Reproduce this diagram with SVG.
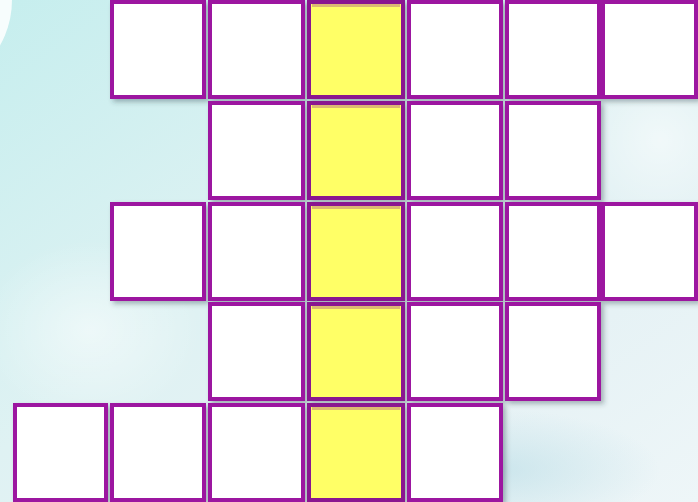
<svg xmlns="http://www.w3.org/2000/svg" width="698" height="502" viewBox="0 0 698 502">
  <defs>
    <linearGradient id="bg" x1="0" y1="0" x2="1" y2="1">
      <stop offset="0" stop-color="#c6eeee"/>
      <stop offset="0.45" stop-color="#dff2f3"/>
      <stop offset="0.75" stop-color="#e6f2f5"/>
      <stop offset="1" stop-color="#eef6f8"/>
    </linearGradient>
    <radialGradient id="blob1" cx="0.5" cy="0.5" r="0.5">
      <stop offset="0" stop-color="#ffffff" stop-opacity="0.5"/>
      <stop offset="1" stop-color="#ffffff" stop-opacity="0"/>
    </radialGradient>
    <radialGradient id="blob2" cx="0.5" cy="0.5" r="0.5">
      <stop offset="0" stop-color="#b9dde6" stop-opacity="0.6"/>
      <stop offset="1" stop-color="#b9dde6" stop-opacity="0"/>
    </radialGradient>
    <filter id="sh" x="-10%" y="-10%" width="130%" height="130%">
      <feDropShadow dx="3" dy="3" stdDeviation="2.5" flood-color="#2a3a40" flood-opacity="0.35"/>
    </filter>
    <style>
      .cell { fill: #ffffff; stroke: #9c17a0; stroke-width: 4; }
      .hl { fill: #ffff66; stroke: #8a1690; stroke-width: 4; }
      .hlin { fill: none; stroke: #8a1690; stroke-opacity: 0.3; stroke-width: 3; }
    </style>
  </defs>

  <rect x="0" y="0" width="698" height="502" fill="url(#bg)"/>
  <ellipse cx="90" cy="330" rx="110" ry="90" fill="url(#blob1)"/>
  <ellipse cx="500" cy="470" rx="160" ry="60" fill="url(#blob2)"/>
  <ellipse cx="660" cy="140" rx="80" ry="80" fill="url(#blob1)"/>
  <circle cx="-80" cy="0" r="92" fill="#ffffff" fill-opacity="0.85"/>

  <g id="grid" filter="url(#sh)">
    <g id="r0c1"><rect class="cell" x="112" y="2" width="92" height="95"/></g>
    <g id="r0c2"><rect class="cell" x="210" y="2" width="93" height="95"/></g>
    <g id="r0c3"><rect class="hl" x="309" y="2" width="94" height="95"/></g>
    <g id="r0c4"><rect class="cell" x="409" y="2" width="92" height="95"/></g>
    <g id="r0c5"><rect class="cell" x="507" y="2" width="92" height="95"/></g>
    <g id="r0c6"><rect class="cell" x="603" y="2" width="93" height="95"/></g>
    <g id="r1c2"><rect class="cell" x="210" y="103" width="93" height="95"/></g>
    <g id="r1c3"><rect class="hl" x="309" y="103" width="94" height="95"/></g>
    <g id="r1c4"><rect class="cell" x="409" y="103" width="92" height="95"/></g>
    <g id="r1c5"><rect class="cell" x="507" y="103" width="92" height="95"/></g>
    <g id="r2c1"><rect class="cell" x="112" y="204" width="92" height="95"/></g>
    <g id="r2c2"><rect class="cell" x="210" y="204" width="93" height="95"/></g>
    <g id="r2c3"><rect class="hl" x="309" y="204" width="94" height="95"/></g>
    <g id="r2c4"><rect class="cell" x="409" y="204" width="92" height="95"/></g>
    <g id="r2c5"><rect class="cell" x="507" y="204" width="92" height="95"/></g>
    <g id="r2c6"><rect class="cell" x="603" y="204" width="93" height="95"/></g>
    <g id="r3c2"><rect class="cell" x="210" y="304" width="93" height="95"/></g>
    <g id="r3c3"><rect class="hl" x="309" y="304" width="94" height="95"/></g>
    <g id="r3c4"><rect class="cell" x="409" y="304" width="92" height="95"/></g>
    <g id="r3c5"><rect class="cell" x="507" y="304" width="92" height="95"/></g>
    <g id="r4c0"><rect class="cell" x="15" y="405" width="91" height="95"/></g>
    <g id="r4c1"><rect class="cell" x="112" y="405" width="92" height="95"/></g>
    <g id="r4c2"><rect class="cell" x="210" y="405" width="93" height="95"/></g>
    <g id="r4c3"><rect class="hl" x="309" y="405" width="94" height="95"/></g>
    <g id="r4c4"><rect class="cell" x="409" y="405" width="92" height="95"/></g>
  </g>

  <g id="yellow-inner-shade">
    <path class="hlin" d="M312,5.5 H400 M312,106.5 H400 M312,207.5 H400 M312,307.5 H400 M312,408.5 H400"/>
  </g>
</svg>
